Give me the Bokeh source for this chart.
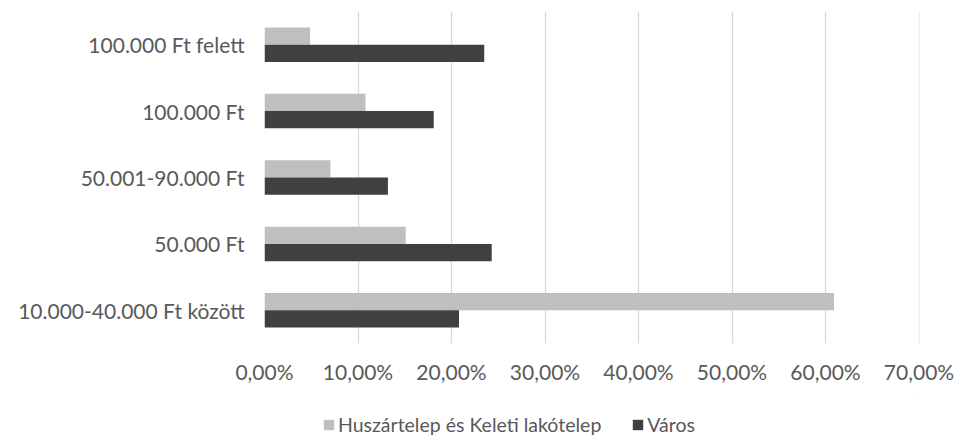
from bokeh.plotting import figure
from bokeh.layouts import column
from bokeh.models import FactorRange, Range1d, FixedTicker, CustomJSTickFormatter, Legend, LegendItem
from bokeh.transform import dodge
from bokeh.models import ColumnDataSource
from bokeh.embed import file_html
from bokeh.resources import INLINE

categories = ["10.000-40.000 Ft között", "50.000 Ft", "50.001-90.000 Ft", "100.000 Ft", "100.000 Ft felett"]
huszartelep = [0.609, 0.151, 0.0705, 0.108, 0.0487]
varos = [0.208, 0.243, 0.132, 0.181, 0.235]
x_ticks = [0.0, 0.1, 0.2, 0.3, 0.4, 0.5, 0.6, 0.7]
series_names = ["Huszártelep és Keleti lakótelep", "Város"]

FONT = "Lato"
TXT = "#595959"
FS = "21px"
LFS = "19.5px"
C1 = "#bfbfbf"
C2 = "#404040"

src = ColumnDataSource(dict(cat=categories, h=huszartelep, v=varos))

p = figure(width=958, height=398, output_backend="svg", toolbar_location=None,
           y_range=FactorRange(*categories, range_padding=0),
           x_range=Range1d(0, 0.7005),
           min_border_left=264, min_border_right=39, min_border_top=11, min_border_bottom=55)

p.hbar(y=dodge("cat", 0.13, range=p.y_range), right="h", left=0, height=0.26,
       source=src, fill_color=C1, line_color=None)
p.hbar(y=dodge("cat", -0.13, range=p.y_range), right="v", left=0, height=0.26,
       source=src, fill_color=C2, line_color=None)

p.outline_line_color = None
p.background_fill_color = "white"
p.border_fill_color = "white"

p.ygrid.grid_line_color = None
p.xgrid.grid_line_color = "#d9d9d9"
p.xgrid.grid_line_width = 1.3
p.xaxis.ticker = FixedTicker(ticks=x_ticks)
p.xaxis.formatter = CustomJSTickFormatter(code="return (tick*100).toFixed(2).replace('.', ',') + '%';")

for ax in (p.xaxis[0], p.yaxis[0]):
    ax.axis_line_color = None
    ax.major_tick_line_color = None
    ax.minor_tick_line_color = None
    ax.major_label_text_font = FONT
    ax.major_label_text_font_size = FS
    ax.major_label_text_color = TXT

p.xaxis.major_label_standoff = 9
p.yaxis.major_label_standoff = 14

# legend strip below the chart (its frame is aligned with the chart's frame)
p2 = figure(width=958, height=38, output_backend="svg", toolbar_location=None,
            x_axis_type=None, y_axis_type=None, min_border=0,
            x_range=Range1d(0, 1), y_range=Range1d(0, 1))
p2.outline_line_color = None
p2.xgrid.grid_line_color = None
p2.ygrid.grid_line_color = None
p2.background_fill_color = "white"
p2.border_fill_color = "white"
# legend-only renderers, placed entirely outside the visible ranges
d1 = p2.hbar(y=[5], right=[6], left=5, height=0.26, fill_color=C1, line_color=None)
d2 = p2.hbar(y=[5], right=[6], left=5, height=0.26, fill_color=C2, line_color=None)

legend = Legend(items=[LegendItem(label=series_names[0], renderers=[d1]),
                       LegendItem(label=series_names[1], renderers=[d2])],
                location=(58, 0), orientation="horizontal",
                glyph_width=13, glyph_height=13, label_standoff=3, spacing=30,
                padding=0, margin=0, border_line_alpha=0, background_fill_alpha=0,
                label_text_font=FONT, label_text_font_size=LFS, label_text_color=TXT,
                label_height=20)
p2.add_layout(legend, "center")

layout = column(p, p2, spacing=0)
open("out.html", "w").write(file_html(layout, INLINE))
